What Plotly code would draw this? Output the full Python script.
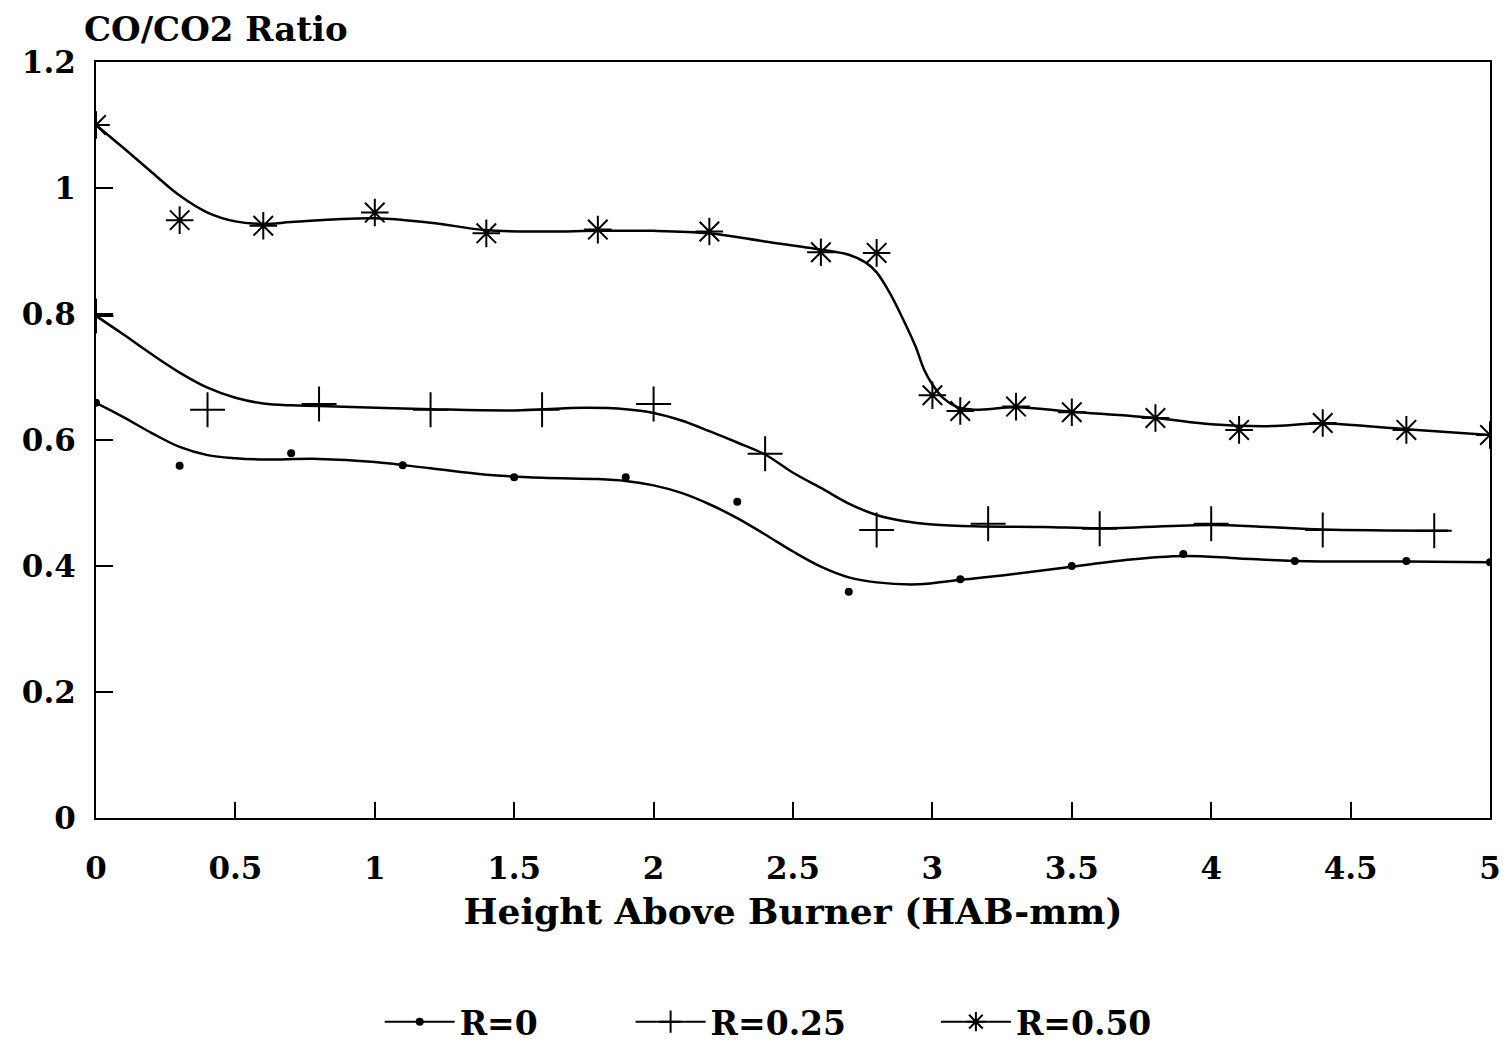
import plotly.graph_objects as go

# Measured CO/CO2 ratios versus height above burner
hab_r0 = [0.0, 0.3, 0.7, 1.1, 1.5, 1.9, 2.3, 2.7, 3.1, 3.5, 3.9, 4.3, 4.7, 5.0]
ratio_r0 = [0.659, 0.559, 0.579, 0.560, 0.541, 0.541, 0.502, 0.359, 0.379, 0.400, 0.419, 0.408, 0.408, 0.406]

hab_r25 = [0.0, 0.4, 0.8, 1.2, 1.6, 2.0, 2.4, 2.8, 3.2, 3.6, 4.0, 4.4, 4.8]
ratio_r25 = [0.797, 0.648, 0.657, 0.648, 0.648, 0.657, 0.578, 0.457, 0.467, 0.459, 0.467, 0.457, 0.456]

hab_r50 = [0.0, 0.3, 0.6, 1.0, 1.4, 1.8, 2.2, 2.6, 2.8, 3.0, 3.1, 3.3, 3.5, 3.8, 4.1, 4.4, 4.7, 5.0]
ratio_r50 = [1.100, 0.949, 0.940, 0.961, 0.928, 0.934, 0.931, 0.898, 0.897, 0.671, 0.646, 0.653, 0.644, 0.635,
             0.616, 0.627, 0.616, 0.608]

# Smoothed fit curves (knots of the fitted line)
fit_x_r0 = [0.0, 0.1, 0.2, 0.3, 0.4, 0.5, 0.6, 0.8, 1.0, 1.2, 1.4, 1.6, 1.8, 1.9, 2.0, 2.1, 2.2, 2.3, 2.4,
            2.5, 2.6, 2.7, 2.8, 2.95, 3.1, 3.25, 3.45, 3.7, 3.9, 4.1, 4.3, 4.7, 5.0]
fit_y_r0 = [0.659, 0.636, 0.611, 0.589, 0.576, 0.571, 0.569, 0.570, 0.565, 0.555, 0.545, 0.540, 0.538, 0.535,
            0.528, 0.516, 0.498, 0.476, 0.450, 0.423, 0.399, 0.382, 0.374, 0.371, 0.378, 0.385, 0.396, 0.410,
            0.416, 0.412, 0.408, 0.407, 0.406]

fit_x_r25 = [0.0, 0.1, 0.2, 0.3, 0.4, 0.5, 0.6, 0.7, 0.8, 1.2, 1.5, 1.75, 1.9, 2.0, 2.1, 2.2, 2.3, 2.4,
             2.5, 2.6, 2.7, 2.8, 2.9, 3.0, 3.15, 3.4, 3.6, 4.0, 4.2, 4.4, 4.85]
fit_y_r25 = [0.797, 0.767, 0.736, 0.707, 0.683, 0.667, 0.658, 0.655, 0.654, 0.649, 0.647, 0.651, 0.649, 0.643,
             0.631, 0.614, 0.596, 0.577, 0.548, 0.524, 0.499, 0.481, 0.471, 0.466, 0.463, 0.462, 0.460, 0.465,
             0.462, 0.458, 0.456]

fit_x_r50 = [0.0, 0.1, 0.2, 0.3, 0.4, 0.5, 0.6, 0.7, 0.85, 1.0, 1.2, 1.4, 1.6, 1.8, 2.0, 2.2, 2.4, 2.6,
             2.7, 2.76, 2.8, 2.845, 2.89, 2.94, 2.97, 3.0, 3.04, 3.09, 3.15, 3.3, 3.5, 3.8, 4.0, 4.2, 4.4,
             4.7, 5.0]
fit_y_r50 = [1.100, 1.063, 1.025, 0.988, 0.961, 0.947, 0.943, 0.946, 0.950, 0.952, 0.945, 0.933, 0.931,
             0.932, 0.932, 0.928, 0.915, 0.902, 0.894, 0.882, 0.866, 0.835, 0.796, 0.748, 0.712, 0.688,
             0.666, 0.652, 0.648, 0.652, 0.645, 0.635, 0.625, 0.622, 0.626, 0.617, 0.608]

x_ticks = [0, 0.5, 1, 1.5, 2, 2.5, 3, 3.5, 4, 4.5, 5]
x_tick_text = ["0", "0.5", "1", "1.5", "2", "2.5", "3", "3.5", "4", "4.5", "5"]
y_ticks = [0, 0.2, 0.4, 0.6, 0.8, 1.0, 1.2]
y_tick_text = ["0", "0.2", "0.4", "0.6", "0.8", "1", "1.2"]

series = [
    ("R=0", hab_r0, ratio_r0, fit_x_r0, fit_y_r0, dict(symbol="circle", size=8, color="black")),
    ("R=0.25", hab_r25, ratio_r25, fit_x_r25, fit_y_r25,
     dict(symbol="cross-thin", size=25, color="black", line=dict(color="black", width=2))),
    ("R=0.50", hab_r50, ratio_r50, fit_x_r50, fit_y_r50,
     dict(symbol="asterisk-open", size=23, color="black", line=dict(color="black", width=2))),
]
legend_ids = ["legend", "legend2", "legend3"]
legend_left = [0.2035, 0.3835, 0.6025]

FONT = "DejaVu Serif"
fig = go.Figure()

for (name, hx, hy, fx, fy, mk), lid in zip(series, legend_ids):
    fig.add_trace(go.Scatter(x=fx, y=fy, mode="lines",
                             line=dict(color="black", width=2.5, shape="spline", smoothing=1.0),
                             showlegend=False, hoverinfo="skip"))
    fig.add_trace(go.Scatter(x=hx, y=hy, mode="markers", marker=mk, name=name, showlegend=False))
    # legend entry: line sample with the series symbol
    fig.add_trace(go.Scatter(x=[None], y=[None], mode="lines+markers", name=name, legend=lid,
                             line=dict(color="black", width=2), marker=mk))

legend_style = dict(orientation="h", xanchor="left", yref="container", y=0.0195, yanchor="middle",
                    font=dict(family=FONT, size=33, weight="bold"), itemwidth=70,
                    bgcolor="rgba(0,0,0,0)")

fig.update_layout(
    width=1511, height=1042,
    margin=dict(l=96, r=21, t=62, b=224, autoexpand=False),
    paper_bgcolor="white", plot_bgcolor="white",
    font=dict(family=FONT, color="black", size=28, weight="bold"),
    showlegend=True,
    legend=dict(x=legend_left[0], **legend_style),
    legend2=dict(x=legend_left[1], **legend_style),
    legend3=dict(x=legend_left[2], **legend_style),
    annotations=[dict(text="CO/CO2 Ratio", xref="paper", yref="paper", x=-0.01, y=1.0, xanchor="left",
                      yanchor="bottom", yshift=11, showarrow=False,
                      font=dict(family=FONT, size=34, weight="bold"))],
)

fig.update_xaxes(range=[0, 5], tickmode="array", tickvals=x_ticks, ticktext=x_tick_text,
                 ticks="inside", ticklen=16, tickwidth=2, tickcolor="black",
                 showline=True, linecolor="black", linewidth=2, mirror=True, showgrid=False, zeroline=False,
                 ticklabelstandoff=22, tickfont=dict(family=FONT, size=31, weight="bold"),
                 title=dict(text="Height Above Burner (HAB-mm)", standoff=14,
                            font=dict(family=FONT, size=36, weight="bold")))
fig.update_yaxes(range=[0, 1.2], tickmode="array", tickvals=y_ticks, ticktext=y_tick_text,
                 ticks="inside", ticklen=17, tickwidth=2, tickcolor="black",
                 showline=True, linecolor="black", linewidth=2, mirror=True, showgrid=False, zeroline=False,
                 ticklabelstandoff=12, tickfont=dict(family=FONT, size=31, weight="bold"))

fig.write_html("out.html")
